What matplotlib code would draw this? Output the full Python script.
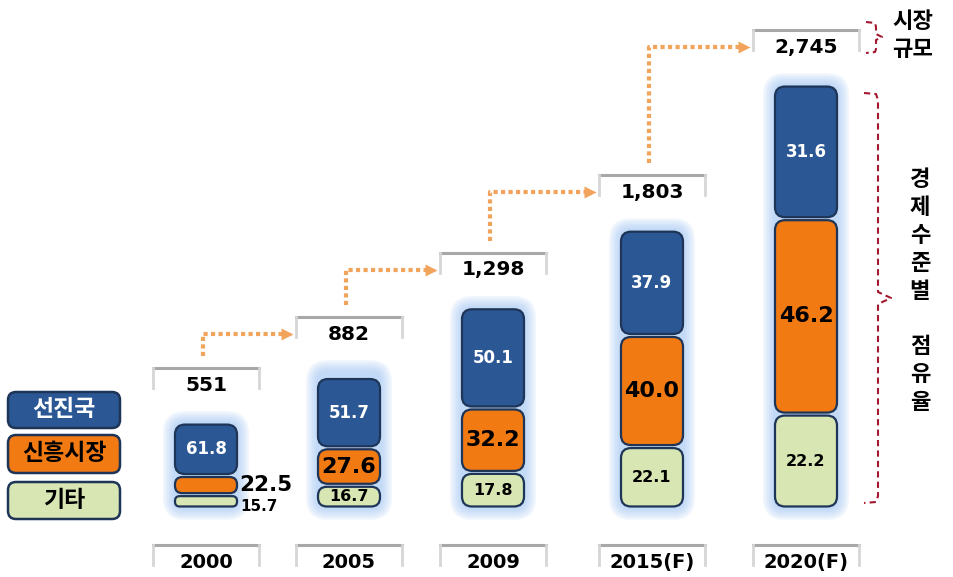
import numpy as np
import matplotlib.pyplot as plt
from matplotlib.patches import FancyBboxPatch

plt.rcParams['font.family'] = ['Noto Sans CJK KR', 'DejaVu Sans']

# data
years = ['2000', '2005', '2009', '2015(F)', '2020(F)']
market_size = [551, 882, 1298, 1803, 2745]
size_labels = ['551', '882', '1,298', '1,803', '2,745']
advanced = [61.8, 51.7, 50.1, 37.9, 31.6]   # 선진국
emerging = [22.5, 27.6, 32.2, 40.0, 46.2]   # 신흥시장
others = [15.7, 16.7, 17.8, 22.1, 22.2]     # 기타
legend_names = ['선진국', '신흥시장', '기타']

blue, orange, green = '#2b5894', '#f27a12', '#d7e6b3'
edge = '#1e3558'
arrow_col = '#f3a45c'
brace_col = '#a3182e'
num_font = ['DejaVu Sans']

W, H = 954, 577
fig = plt.figure(figsize=(W / 100, H / 100), dpi=100)
ax = fig.add_axes([0, 0, 1, 1])
x_lo, x_hi = -1.373, 4.987
y_lo, y_hi = -448, 3297
ax.set_xlim(x_lo, x_hi)
ax.set_ylim(y_lo, y_hi)
ax.axis('off')

ux = (x_hi - x_lo) / W   # x units per pixel
uy = (y_hi - y_lo) / H   # y units per pixel
aspect = uy / ux


def X(px):
    return x_lo + px * ux


def Y(py):
    return y_hi - py * uy


# bar slots (the slide spaces them a little unevenly)
xpos = [X(206), X(349), X(493), X(652), X(806)]


def rbox(x0, y0, w, h, r_px, **kw):
    r = min(r_px, h / uy / 2.2, w / ux / 2.2) * ux
    p = FancyBboxPatch((x0, y0), w, h, boxstyle='round,pad=0,rounding_size=%f' % r,
                       mutation_aspect=aspect, **kw)
    ax.add_patch(p)
    return p


def bracket_box(xc, y_top, half=0.353):
    # grey top line with faded sides
    ax.plot([xc - half, xc + half], [y_top, y_top], color='#a8a8a8', lw=2.2, zorder=2)
    for s in (-1, 1):
        ax.plot([xc + s * half, xc + s * half], [y_top, y_top - 20 * uy],
                color='#d6d6d6', lw=2, zorder=2)


bw = 62 * ux
gap = 3 * uy

# bars
for i in range(len(years)):
    xc = xpos[i]
    tot = market_size[i]
    # glow
    for g in range(12, 0, -2):
        rbox(xc - bw / 2 - g * ux, -g * uy, bw + 2 * g * ux, tot + 2 * g * uy, 10 + g,
             fc='#9fc5f4', ec='none', alpha=0.14, zorder=1)
    bottom = 0
    for share, fc in zip([others[i], emerging[i], advanced[i]], [green, orange, blue]):
        h = tot * share / 100
        rbox(xc - bw / 2, bottom + gap / 2, bw, h - gap, 10, fc=fc, ec=edge, lw=1.6, zorder=3)
        bottom += h

    y_adv = tot * (others[i] + emerging[i] + advanced[i] / 2) / 100
    y_emg = tot * (others[i] + emerging[i] / 2) / 100
    y_oth = tot * others[i] / 200
    ax.text(xc, y_adv, '%.1f' % advanced[i], color='white', fontsize=12, family=num_font,
            fontweight='bold', ha='center', va='center', zorder=4)
    if i == 0:
        ax.text(xc + bw / 2 + 2 * ux, y_emg, '%.1f' % emerging[i], fontsize=15.5,
                family=num_font, fontweight='bold', ha='left', va='center', zorder=4)
        ax.text(xc + bw / 2 + 3 * ux, y_oth - 5 * uy, '%.1f' % others[i], fontsize=11,
                family=num_font, fontweight='bold', ha='left', va='center', zorder=4)
    else:
        ax.text(xc, y_emg, '%.1f' % emerging[i], fontsize=16, family=num_font,
                fontweight='bold', ha='center', va='center', zorder=4)
        ax.text(xc, y_oth, '%.1f' % others[i], fontsize=11.5, family=num_font,
                fontweight='bold', ha='center', va='center', zorder=4)

    # market size label
    bracket_box(xc, tot + 55 * uy)
    ax.text(xc, tot + 38 * uy, size_labels[i], fontsize=14.5, family=num_font,
            fontweight='bold', ha='center', va='center', zorder=4)

    # year label
    bracket_box(xc, -37 * uy)
    ax.text(xc, -55 * uy, years[i], fontsize=14, family=num_font, fontweight='bold',
            ha='center', va='center', zorder=4)

# growth arrows
for i in range(len(years) - 1):
    x0 = xpos[i] - 3 * ux
    y0 = market_size[i] + 67 * uy
    y1 = market_size[i + 1] + 38 * uy
    x1 = xpos[i + 1] - 62 * ux
    ax.plot([x0, x0, x1], [y0, y1, y1], color=arrow_col, lw=3,
            linestyle=(0, (1, 0.8)), dash_capstyle='butt', zorder=2)
    ax.plot(x1, y1, marker='>', ms=9, color=arrow_col, mec='none', zorder=2)

# legend boxes
legend_cols = [blue, orange, green]
legend_txt = ['white', 'black', 'black']
legend_rows = [(392, 428), (435, 473), (482, 519)]
for name, fc, tc, (t, b) in zip(legend_names, legend_cols, legend_txt, legend_rows):
    rbox(X(8), Y(b), 112 * ux, (b - t) * uy, 8, fc=fc, ec=edge, lw=1.8, zorder=3)
    ax.text(X(64), Y((t + b) / 2), name, color=tc, fontsize=16.5, fontweight='bold',
            ha='center', va='center', zorder=4)

# braces on the right
small = [(866, 22), (875, 23), (876, 27), (876, 34), (882, 37), (876, 40), (876, 49), (875, 52), (866, 53)]
big = [(864, 93), (876, 94), (878, 100), (878, 292), (891, 298), (878, 304), (878, 496), (876, 502), (864, 503)]
for pts in (small, big):
    ax.plot([X(p[0]) for p in pts], [Y(p[1]) for p in pts], color=brace_col, lw=1.5,
            linestyle=(0, (3, 2)), zorder=2)

ax.text(X(913), Y(22), '시장', fontsize=16, fontweight='bold', ha='center', va='center')
ax.text(X(913), Y(50), '규모', fontsize=16, fontweight='bold', ha='center', va='center')
k = 0
for ch in '경제수준별 점유율':
    if ch != ' ':
        ax.text(X(920), Y(180 + k * 27.8), ch, fontsize=16, fontweight='bold',
                ha='center', va='center')
    k += 1

fig.savefig('out.png', dpi=100)
